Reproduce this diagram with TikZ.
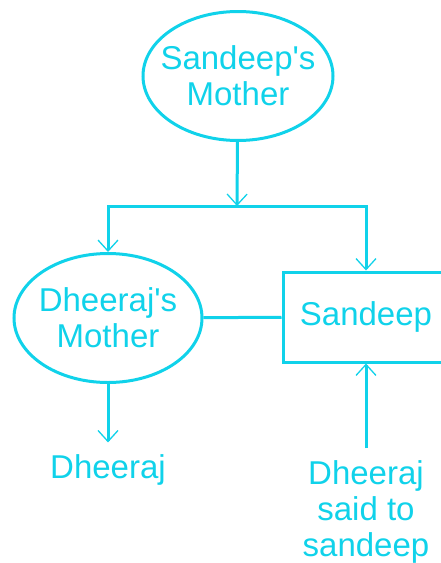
\documentclass[tikz,border=0pt]{standalone}
\usepackage{fontspec}
\setmainfont{Liberation Sans}
\usetikzlibrary{shapes.geometric,arrows.meta}
\definecolor{famcyan}{RGB}{16,210,234}

\begin{document}
\begin{tikzpicture}[x=1pt, y=-1pt,
    every node/.style={text=famcyan, font=\fontsize{33}{36}\selectfont, align=center},
    oval/.style={ellipse, draw=famcyan, line width=3pt, inner xsep=-22pt, inner ysep=-10pt},
    person/.style={draw=famcyan, line width=3pt, minimum width=166pt, minimum height=90pt},
    lbl/.style={inner sep=12pt},
    link/.style={draw=famcyan, line width=3pt},
    arr/.style={link, -{Straight Barb[length=11pt, width=20pt, line width=1.3pt]}}]
    \useasboundingbox (0,0) rectangle (441,563);
    \clip (0,0) rectangle (441,563);

    % ノードの定義
    \node[oval, minimum width=190pt, minimum height=129pt] (smother) at (238, 76) {Sandeep\textquotesingle s\\Mother};
    \node[oval, minimum width=188pt, minimum height=129pt] (dmother) at (108, 318) {Dheeraj\textquotesingle s\\Mother};
    \node[person] (sandeep) at (366, 317) {Sandeep};
    \node[lbl] (dheeraj) at (108, 470) {Dheeraj};
    \node[lbl] (said) at (366, 512) {Dheeraj\\said to\\sandeep};
    \coordinate (split) at (237, 206);

    % エッジを引く
    \draw[arr] (smother) -- (split);
    \draw[arr] (split) -| (dmother);
    \draw[arr] (split) -| (sandeep);
    \draw[link] (dmother) -- (sandeep);
    \draw[arr] (dmother) -- (dheeraj);
    \draw[arr] (said) -- (sandeep);

\end{tikzpicture}
\end{document}
